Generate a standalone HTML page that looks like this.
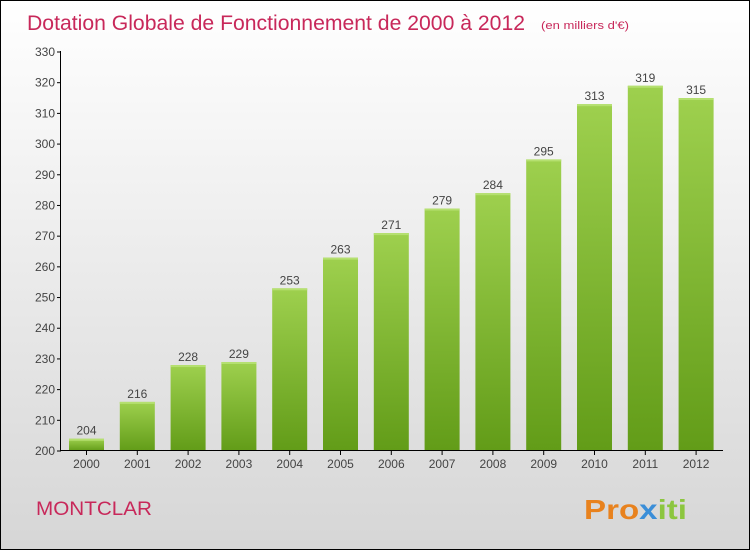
<!DOCTYPE html>
<html><head><meta charset="utf-8"><style>
body{margin:0}
#c{position:relative;width:748px;height:548px;border:1px solid #000;background:linear-gradient(#ffffff,#d6d6d6);font-family:"Liberation Sans",sans-serif;overflow:hidden}
</style></head><body><div id="c">
<svg width="748" height="548" style="position:absolute;left:0;top:0" font-family="Liberation Sans,sans-serif">
<defs><linearGradient id="g" x1="0" y1="0" x2="0" y2="1"><stop offset="0" stop-color="#9ed04e"/><stop offset="1" stop-color="#629c18"/></linearGradient></defs>
<text x="26" y="29" font-size="21" fill="#c8285a" textLength="498" lengthAdjust="spacingAndGlyphs">Dotation Globale de Fonctionnement de 2000 à 2012</text>
<text x="540" y="28" font-size="11" fill="#c8285a" textLength="88" lengthAdjust="spacingAndGlyphs">(en milliers d'€)</text>
<g id="bars"></g>
<line x1="59.5" y1="50" x2="59.5" y2="450" stroke="#000"/>
<line x1="59" y1="449.5" x2="722" y2="449.5" stroke="#000"/>
<g id="ax" font-size="12" fill="#444"></g>
<text x="35" y="514" font-size="19" fill="#c8285a" textLength="116" lengthAdjust="spacingAndGlyphs">MONTCLAR</text>
<text x="583" y="518" font-size="28" font-weight="bold" fill="#e8821e" textLength="103" lengthAdjust="spacingAndGlyphs">Pro<tspan fill="#3a8ed8">x</tspan><tspan fill="#8cc63f">iti</tspan></text>
</svg>
<script>
var v=[204,216,228,229,253,263,271,279,284,295,313,319,315],s='',a='';
function Y(x){return 450-(x-200)*399/130}
for(var i=0;i<14;i++){var y=Y(200+i*10);a+='<line x1="56" x2="60" y1="'+y+'" y2="'+y+'" stroke="#000"/><text x="54" y="'+(y+4)+'" text-anchor="end">'+(200+i*10)+'</text>';}
v.forEach(function(d,i){var x=68+i*50.8,y=Y(d);s+='<rect x="'+x+'" y="'+y+'" width="35" height="'+(450-y)+'" fill="url(#g)"/><rect x="'+x+'" y="'+y+'" width="35" height="2" fill="#b5e070"/><text x="'+(x+17.5)+'" y="'+(y-4)+'" font-size="12" fill="#444" text-anchor="middle">'+d+'</text>';
a+='<line x1="'+(x+17.5)+'" x2="'+(x+17.5)+'" y1="450" y2="454" stroke="#000"/><text x="'+(x+17.5)+'" y="467" text-anchor="middle">'+(2000+i)+'</text>';});
document.getElementById('bars').innerHTML=s;document.getElementById('ax').innerHTML=a;
</script>
</div></body></html>
